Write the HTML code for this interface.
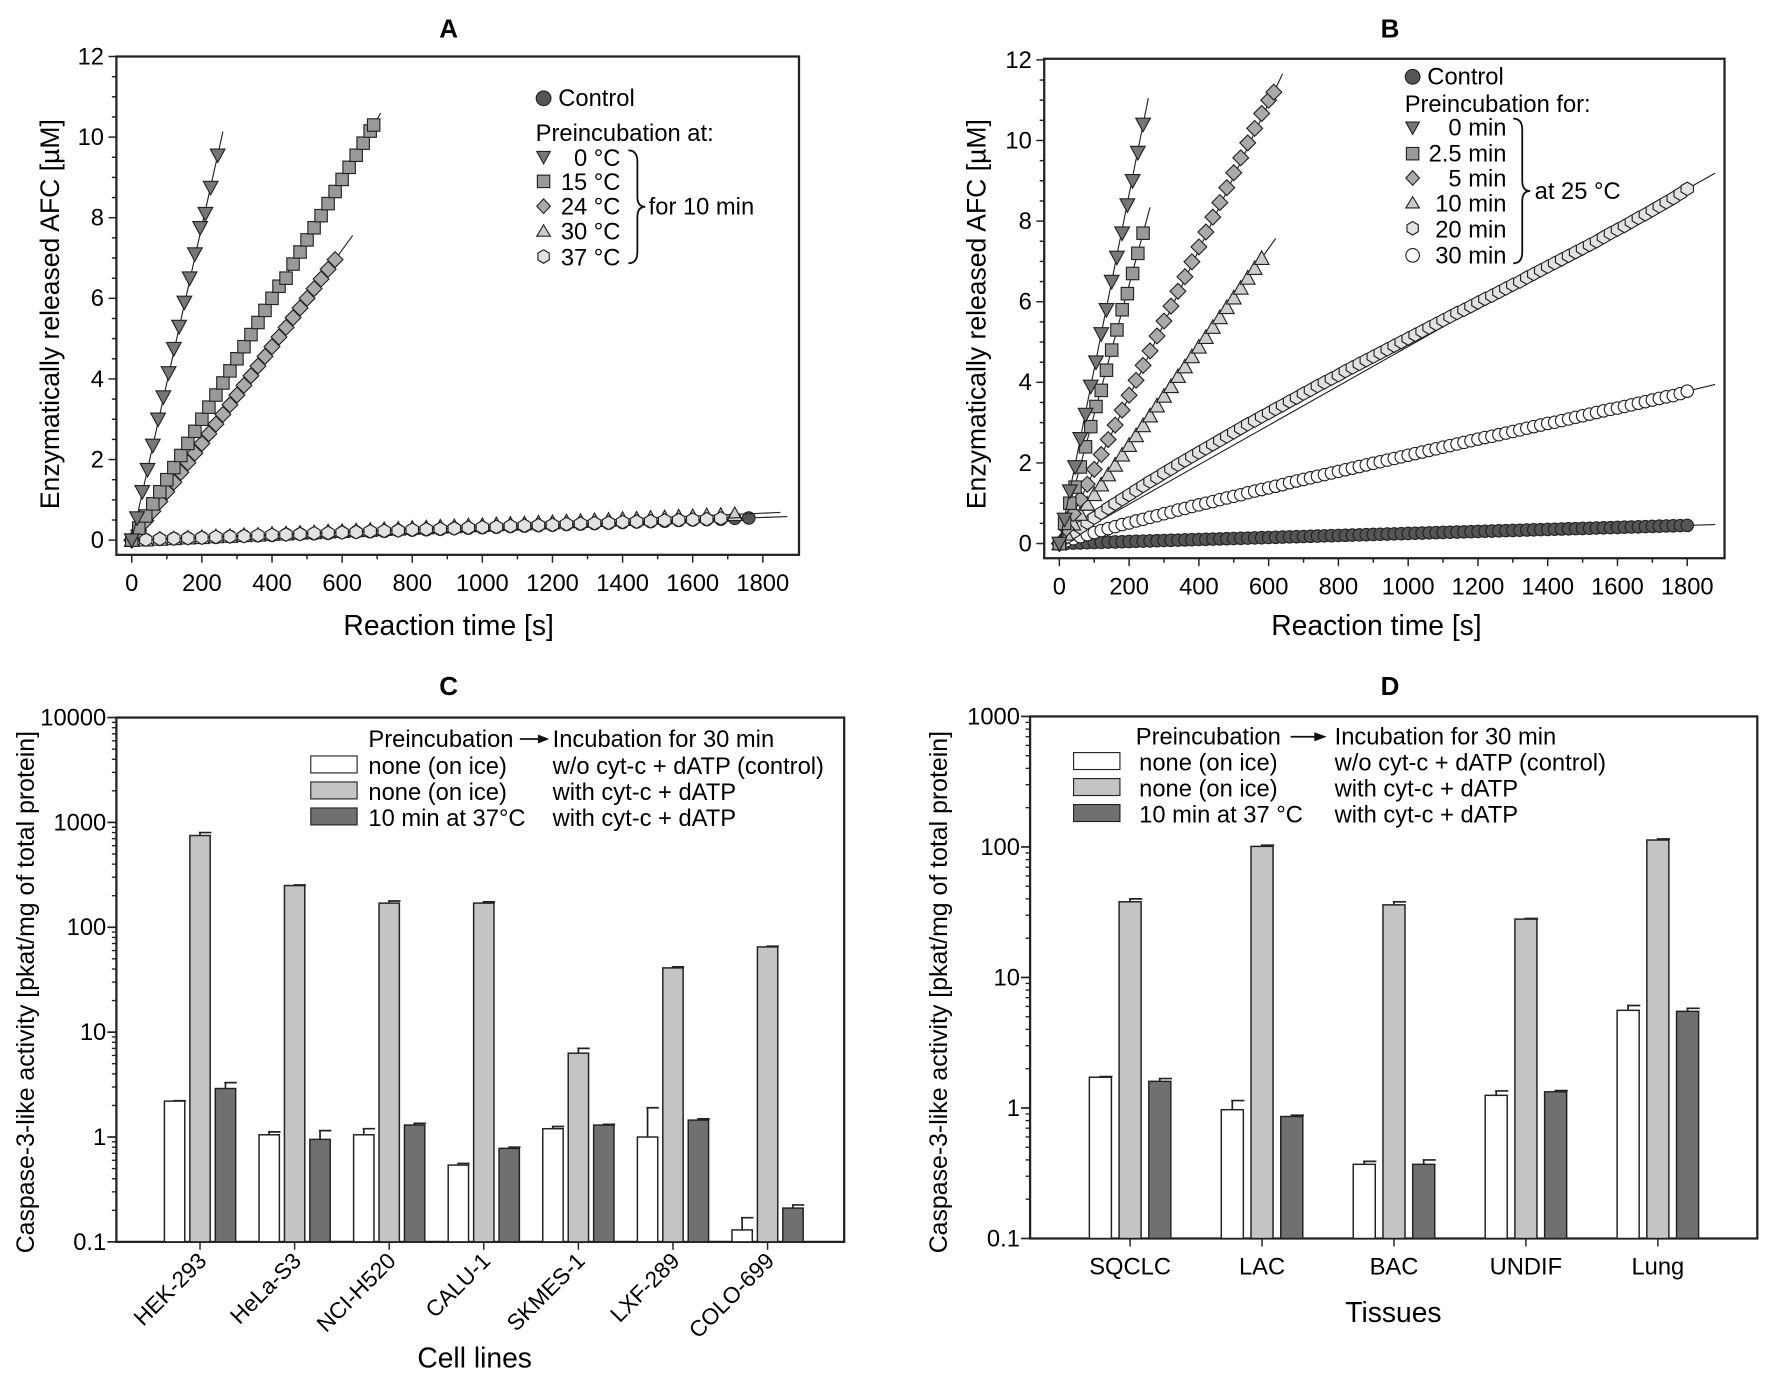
<!DOCTYPE html>
<html><head><meta charset="utf-8"><style>
html,body{margin:0;padding:0;background:#fff;}
svg{display:block;font-family:"Liberation Sans",Arial,sans-serif;}
</style></head><body>
<svg id="fig" width="1772" height="1382" viewBox="0 0 1568 1223" preserveAspectRatio="none">
<rect x="0" y="0" width="1568" height="1223" fill="#fff"/>
<!-- Titles -->
<text x="397" y="33" font-size="23" font-weight="bold" text-anchor="middle">A</text>
<text x="1230" y="33" font-size="23" font-weight="bold" text-anchor="middle">B</text>
<text x="397" y="615" font-size="23" font-weight="bold" text-anchor="middle">C</text>
<text x="1230" y="615" font-size="23" font-weight="bold" text-anchor="middle">D</text>
<!-- axis titles -->
<text x="397" y="562" font-size="25" text-anchor="middle">Reaction time [s]</text>
<text transform="translate(52,278) rotate(-90)" font-size="23.5" text-anchor="middle">Enzymatically released AFC [µM]</text>
<text x="1218" y="562" font-size="25" text-anchor="middle">Reaction time [s]</text>
<text transform="translate(872,278) rotate(-90)" font-size="23.5" text-anchor="middle">Enzymatically released AFC [µM]</text>
<text x="420" y="1210" font-size="25" text-anchor="middle">Cell lines</text>
<text transform="translate(30,878) rotate(-90)" font-size="22" text-anchor="middle">Caspase-3-like activity [pkat/mg of total protein]</text>
<text x="1233" y="1170" font-size="25" text-anchor="middle">Tissues</text>
<text transform="translate(838,878) rotate(-90)" font-size="22" text-anchor="middle">Caspase-3-like activity [pkat/mg of total protein]</text>

<!-- Legend A -->
<g font-size="21">
 <circle cx="481" cy="87" r="6.5" fill="#555" stroke="#222"/>
 <text x="494" y="94">Control</text>
 <text x="474" y="125">Preincubation at:</text>
 <polygon points="475,134 487,134 481,145" fill="#777" stroke="#222"/>
 <text x="549" y="147" text-anchor="end">0 °C</text>
 <rect x="475.5" y="155" width="11" height="11" fill="#999" stroke="#222"/>
 <text x="549" y="168" text-anchor="end">15 °C</text>
 <polygon points="481,176 487,182.5 481,189 475,182.5" fill="#aaa" stroke="#222"/>
 <text x="549" y="190" text-anchor="end">24 °C</text>
 <polygon points="475,209 487,209 481,199" fill="#ccc" stroke="#222"/>
 <text x="549" y="212" text-anchor="end">30 °C</text>
 <polygon points="481,221 486,224 486,230 481,233 476,230 476,224" fill="#e2e2e2" stroke="#222"/>
 <text x="549" y="235" text-anchor="end">37 °C</text>
 <path d="M556,133 Q564,133 564,143 L564,174 Q564,183 571,183 Q564,183 564,192 L564,223 Q564,233 556,233" fill="none" stroke="#111" stroke-width="1.6"/>
 <text x="574" y="190">for 10 min</text>
</g>
<!-- Legend B -->
<g font-size="21">
 <circle cx="1250" cy="68" r="6.5" fill="#555" stroke="#222"/>
 <text x="1263" y="75">Control</text>
 <text x="1243" y="99">Preincubation for:</text>
 <polygon points="1244,108 1256,108 1250,119" fill="#777" stroke="#222"/>
 <text x="1333" y="120" text-anchor="end">0 min</text>
 <rect x="1244.5" y="130.5" width="11" height="11" fill="#999" stroke="#222"/>
 <text x="1333" y="143" text-anchor="end">2.5 min</text>
 <polygon points="1250,151 1256,157.5 1250,164 1244,157.5" fill="#aaa" stroke="#222"/>
 <text x="1333" y="165" text-anchor="end">5 min</text>
 <polygon points="1244,184 1256,184 1250,174" fill="#ccc" stroke="#222"/>
 <text x="1333" y="187" text-anchor="end">10 min</text>
 <polygon points="1250,196 1255,199 1255,205 1250,208 1245,205 1245,199" fill="#e2e2e2" stroke="#222"/>
 <text x="1333" y="210" text-anchor="end">20 min</text>
 <circle cx="1250" cy="226" r="6" fill="#fff" stroke="#222"/>
 <text x="1333" y="233" text-anchor="end">30 min</text>
 <path d="M1339,105 Q1347,105 1347,115 L1347,160 Q1347,169 1354,169 Q1347,169 1347,178 L1347,223 Q1347,233 1339,233" fill="none" stroke="#111" stroke-width="1.6"/>
 <text x="1358" y="176">at 25 °C</text>
</g>
<!-- Legend C -->
<g font-size="21">
 <text x="326" y="661">Preincubation</text>
 <line x1="460" y1="654" x2="478" y2="654" stroke="#111" stroke-width="1.6"/>
 <polygon points="476,650 486,654 476,658" fill="#111"/>
 <text x="489" y="661">Incubation for 30 min</text>
 <rect x="275" y="669" width="41" height="15" fill="#fff" stroke="#222"/>
 <text x="326" y="685">none (on ice)</text>
 <text x="489" y="685">w/o cyt-c + dATP (control)</text>
 <rect x="275" y="692" width="41" height="15" fill="#c4c4c4" stroke="#222"/>
 <text x="326" y="708">none (on ice)</text>
 <text x="489" y="708">with cyt-c + dATP</text>
 <rect x="275" y="715" width="41" height="15" fill="#707070" stroke="#222"/>
 <text x="326" y="731">10 min at 37°C</text>
 <text x="489" y="731">with cyt-c + dATP</text>
</g>
<!-- Legend D -->
<g font-size="21">
 <text x="1005" y="659">Preincubation</text>
 <line x1="1142" y1="652" x2="1165" y2="652" stroke="#111" stroke-width="1.6"/>
 <polygon points="1163,648 1174,652 1163,656" fill="#111"/>
 <text x="1181" y="659">Incubation for 30 min</text>
 <rect x="950" y="666" width="41" height="15" fill="#fff" stroke="#222"/>
 <text x="1008" y="682">none (on ice)</text>
 <text x="1181" y="682">w/o cyt-c + dATP (control)</text>
 <rect x="950" y="689" width="41" height="15" fill="#c4c4c4" stroke="#222"/>
 <text x="1008" y="705">none (on ice)</text>
 <text x="1181" y="705">with cyt-c + dATP</text>
 <rect x="950" y="712" width="41" height="15" fill="#707070" stroke="#222"/>
 <text x="1008" y="728">10 min at 37 °C</text>
 <text x="1181" y="728">with cyt-c + dATP</text>
</g>
</svg>
<script>
// ---------- Panel A data ----------
var aT0 = [0,15,30,45,60,75,90,105,120,135,150,165,180,195,210,225,245];
var aV0 = [0,0.55,1.2,1.75,2.35,3.0,3.55,4.15,4.75,5.3,5.9,6.5,7.1,7.75,8.1,8.75,9.55];
var aT15 = [0,20,40,60,80,100,120,140,160,180,200,220,240,260,280,300,320,340,360,380,400,420,440,460,480,500,520,540,560,580,600,620,640,660,680,690];
var aV15 = [0,0.3,0.6,0.9,1.2,1.5,1.8,2.1,2.4,2.7,3.0,3.3,3.6,3.9,4.2,4.5,4.8,5.1,5.4,5.7,6.0,6.3,6.5,6.85,7.15,7.45,7.75,8.05,8.35,8.65,8.95,9.25,9.55,9.85,10.15,10.3];
var aT24 = [0,20,40,60,80,100,120,140,160,180,200,220,240,260,280,300,320,340,360,380,400,420,440,460,480,500,520,540,560,580];
var aV24 = [0,0.24,0.48,0.72,0.96,1.2,1.44,1.68,1.92,2.16,2.4,2.64,2.88,3.12,3.36,3.6,3.84,4.08,4.32,4.56,4.8,5.04,5.28,5.52,5.76,6.0,6.24,6.48,6.72,6.96];
var aVctl = [0,.01,.02,.04,.05,.06,.07,.09,.10,.11,.12,.14,.15,.16,.17,.19,.20,.21,.22,.24,.25,.26,.27,.29,.30,.31,.32,.34,.35,.36,.37,.39,.40,.41,.42,.44,.45,.46,.47,.49,.50,.51,.52,.54,.55];
var aV30 = [0,.01,.03,.04,.06,.07,.09,.10,.12,.13,.15,.16,.18,.19,.21,.22,.24,.25,.27,.28,.30,.31,.33,.34,.36,.37,.39,.40,.41,.43,.44,.46,.47,.49,.50,.52,.53,.55,.56,.58,.59,.61,.62,.64];
var aV37 = [0,.01,.03,.04,.05,.06,.08,.09,.10,.12,.13,.14,.15,.17,.18,.19,.20,.22,.23,.24,.26,.27,.28,.29,.31,.32,.33,.35,.36,.37,.38,.40,.41,.42,.43,.45,.46,.47,.49,.50,.51,.52,.54];
var lowStep = 40;
var bStep = 20;
// ---------- Panel B data ----------
var bT0 = [0,15,30,45,60,75,90,105,120,135,150,165,180,195,210,225,240];
var bV0 = [0,.6,1.3,1.9,2.6,3.2,3.9,4.5,5.2,5.8,6.5,7.1,7.7,8.4,9.0,9.7,10.4];
var bT25 = [0,15,30,45,60,75,90,105,120,135,150,165,180,195,210,225,240];
var bV25 = [0,.5,1.0,1.4,1.9,2.4,2.9,3.4,3.8,4.3,4.8,5.3,5.8,6.2,6.7,7.2,7.7];
var bT5 = [0,20,40,60,80,100,120,140,160,180,200,220,240,260,280,300,320,340,360,380,400,420,440,460,480,500,520,540,560,580,600,615];
var bV5 = [0,.37,.74,1.1,1.47,1.84,2.21,2.58,2.94,3.31,3.68,4.05,4.42,4.78,5.15,5.52,5.89,6.26,6.62,6.99,7.36,7.73,8.1,8.46,8.83,9.2,9.57,9.94,10.3,10.67,11.0,11.2];
var bT10 = [0,20,40,60,80,100,120,140,160,180,200,220,240,260,280,300,320,340,360,380,400,420,440,460,480,500,520,540,560,580];
var bV10 = [0,.24,.49,.73,.98,1.22,1.46,1.71,1.95,2.2,2.44,2.68,2.93,3.17,3.42,3.66,3.9,4.15,4.39,4.64,4.88,5.12,5.37,5.61,5.86,6.1,6.34,6.59,6.83,7.08];
var bV20 = [0,.15,.28,.40,.52,.64,.76,.88,.99,1.10,1.21,1.32,1.43,1.54,1.64,1.75,1.85,1.96,2.06,2.16,2.26,2.36,2.46,2.56,2.66,2.76,2.86,2.96,3.05,3.15,3.24,3.34,3.43,3.53,3.62,3.72,3.81,3.91,4.0,4.09,4.18,4.28,4.37,4.46,4.55,4.64,4.73,4.82,4.91,5.0,5.09,5.18,5.27,5.36,5.45,5.54,5.63,5.72,5.80,5.89,5.98,6.07,6.15,6.24,6.33,6.42,6.50,6.60,6.69,6.78,6.87,6.96,7.05,7.14,7.23,7.32,7.41,7.50,7.60,7.70,7.79,7.88,7.98,8.08,8.17,8.27,8.37,8.47,8.57,8.68,8.8];
var bV30 = [0,.07,.12,.17,.22,.27,.32,.37,.42,.47,.51,.56,.60,.65,.69,.74,.78,.83,.87,.92,.96,1.00,1.04,1.09,1.13,1.17,1.21,1.26,1.30,1.34,1.38,1.42,1.46,1.51,1.55,1.59,1.63,1.67,1.71,1.75,1.79,1.83,1.87,1.91,1.95,1.99,2.03,2.07,2.11,2.15,2.19,2.23,2.27,2.31,2.35,2.39,2.43,2.47,2.51,2.55,2.59,2.63,2.66,2.70,2.74,2.78,2.82,2.86,2.90,2.94,2.98,3.01,3.05,3.09,3.13,3.17,3.21,3.25,3.29,3.33,3.36,3.40,3.44,3.48,3.52,3.56,3.60,3.64,3.67,3.72,3.78];
var bVctl = [0,.005,.01,.015,.02,.025,.03,.035,.04,.045,.05,.055,.06,.065,.07,.075,.08,.085,.09,.095,.10,.105,.11,.115,.12,.125,.13,.135,.14,.145,.15,.155,.16,.165,.17,.175,.18,.185,.19,.195,.20,.205,.21,.215,.22,.225,.23,.235,.24,.245,.25,.255,.26,.265,.27,.275,.28,.285,.29,.295,.30,.305,.31,.315,.32,.325,.33,.335,.34,.345,.35,.355,.36,.365,.37,.375,.38,.385,.39,.395,.40,.405,.41,.415,.42,.425,.43,.435,.44,.445,.45];
var xTicks = [0,200,400,600,800,1000,1200,1400,1600,1800];
var yTicksLin = [0,2,4,6,8,10,12];
// ---------- Panel C data ----------
var cCats = ["HEK-293","HeLa-S3","NCI-H520","CALU-1","SKMES-1","LXF-289","COLO-699"];
var cCtl = [2.2,1.05,1.05,0.54,1.2,1.0,0.13];
var cCtlErr = [0.02,0.07,0.15,0.02,0.06,0.9,0.04];
var cIce = [750,250,170,170,6.3,41,65];
var cIceErr = [50,3,8,5,0.7,1,1];
var cHot = [2.9,0.95,1.3,0.78,1.3,1.45,0.21];
var cHotErr = [0.4,0.2,0.05,0.02,0.02,0.04,0.015];
var cYTicks = [0.1,1,10,100,1000,10000];
var cYLabels = ["0.1","1","10","100","1000","10000"];
// ---------- Panel D data ----------
var dCats = ["SQCLC","LAC","BAC","UNDIF","Lung"];
var dCtl = [1.72,0.97,0.37,1.25,5.6];
var dCtlErr = [0.02,0.17,0.02,0.1,0.5];
var dIce = [38,101,36,28,113];
var dIceErr = [2,2,2,0.3,2];
var dHot = [1.6,0.86,0.37,1.33,5.5];
var dHotErr = [0.08,0.02,0.03,0.03,0.3];
var dYTicks = [0.1,1,10,100,1000];
var dYLabels = ["0.1","1","10","100","1000"];

var NS = "http://www.w3.org/2000/svg";
var svg = document.getElementById('fig');
function mk(tag, parent){ var e = document.createElementNS(NS, tag); parent.appendChild(e); return e; }
function grp(name){ var g = mk('g', svg);
  
  
  return g; }

function marker(g, type, cx, cy, fill){
  var s = 5.5, e;
  if (type === 'circle'){ e = mk('circle', g); e.setAttribute('cx', cx); e.setAttribute('cy', cy); e.setAttribute('r', s); }
  else if (type === 'square'){ e = mk('rect', g); e.setAttribute('x', cx - s); e.setAttribute('y', cy - s); e.setAttribute('width', 2*s); e.setAttribute('height', 2*s); }
  else {
    var p;
    if (type === 'tridown') p = [[cx-s-1,cy-s],[cx+s+1,cy-s],[cx,cy+s+1]];
    else if (type === 'triup') p = [[cx-s-1,cy+s],[cx+s+1,cy+s],[cx,cy-s-1]];
    else if (type === 'diamond') p = [[cx,cy-s-1.5],[cx+s+1.5,cy],[cx,cy+s+1.5],[cx-s-1.5,cy]];
    else p = [[cx,cy-s-0.5],[cx+s,cy-s/2],[cx+s,cy+s/2],[cx,cy+s+0.5],[cx-s,cy+s/2],[cx-s,cy-s/2]];
    e = mk('polygon', g); e.setAttribute('points', p.map(function(q){return q.join(',');}).join(' '));
  }
  e.setAttribute('fill', fill); e.setAttribute('stroke', '#222'); e.setAttribute('stroke-width', '1');
  
  
}

function linPanel(cfg){
  var fx = function(t){ return cfg.x0 + t * (cfg.x1800 - cfg.x0) / 1800; };
  var fy = function(v){ return cfg.y0 - v * (cfg.y0 - cfg.y12) / 12; };
  var ax = grp(cfg.id + '-axes');
  var fr = mk('rect', ax);
  fr.setAttribute('x', cfg.L); fr.setAttribute('y', cfg.T); fr.setAttribute('width', cfg.R - cfg.L); fr.setAttribute('height', cfg.B - cfg.T);
  fr.setAttribute('fill', 'none'); fr.setAttribute('stroke', '#222'); fr.setAttribute('stroke-width', '2');
  
  
  for (var t = 0; t <= 1800; t += 100){
    var tk = mk('line', ax); var major = (t % 200 === 0);
    tk.setAttribute('x1', fx(t)); tk.setAttribute('x2', fx(t)); tk.setAttribute('y1', cfg.B); tk.setAttribute('y2', cfg.B + (major ? 7 : 4));
    tk.setAttribute('stroke', '#222'); tk.setAttribute('stroke-width', '1.3');
    
    
  }
  xTicks.forEach(function(t){
    var tx = mk('text', ax); tx.setAttribute('x', fx(t)); tx.setAttribute('y', cfg.B + 32);
    tx.setAttribute('font-size', '21'); tx.setAttribute('text-anchor', 'middle'); tx.textContent = String(t);
    
    
  });
  for (var v = 0; v <= 12.001; v += 0.5){
    var ty = mk('line', ax); var mj = (Math.abs(v % 2) < 0.01);
    ty.setAttribute('x1', cfg.L); ty.setAttribute('x2', cfg.L - (mj ? 7 : 4)); ty.setAttribute('y1', fy(v)); ty.setAttribute('y2', fy(v));
    ty.setAttribute('stroke', '#222'); ty.setAttribute('stroke-width', '1.3');
    
    
  }
  yTicksLin.forEach(function(v){
    var tx = mk('text', ax); tx.setAttribute('x', cfg.L - 11); tx.setAttribute('y', fy(v) + 7);
    tx.setAttribute('font-size', '21'); tx.setAttribute('text-anchor', 'end'); tx.textContent = String(v);
    
    
  });
  cfg.series.forEach(function(s){
    var g = grp(cfg.id + '-series-' + s.name);
    var n = s.v.length, tl = s.t[n-1], vl = s.v[n-1];
    var tend = Math.min(tl + s.ext, 1880);
    var ln = mk('line', g);
    ln.setAttribute('x1', fx(0)); ln.setAttribute('y1', fy(0)); ln.setAttribute('x2', fx(tend)); ln.setAttribute('y2', fy(vl * tend / tl));
    ln.setAttribute('stroke', '#222'); ln.setAttribute('stroke-width', '1');
    
    
    for (var i = 0; i < n; i++) marker(g, s.type, fx(s.t[i]), fy(s.v[i]), s.fill);
  });
}
function steps(n, st){ var a = []; for (var i = 0; i < n; i++) a.push(i * st); return a; }

linPanel({id:'a', L:103, R:707, T:50, B:491, x0:116.6, x1800:675, y0:478, y12:50, series:[
  {name:'control', t:steps(aVctl.length, lowStep), v:aVctl, type:'circle', fill:'#555', ext:110},
  {name:'30c', t:steps(aV30.length, lowStep), v:aV30, type:'triup', fill:'#ccc', ext:130},
  {name:'37c', t:steps(aV37.length, lowStep), v:aV37, type:'hex', fill:'#e2e2e2', ext:60},
  {name:'24c', t:aT24, v:aV24, type:'diamond', fill:'#aaa', ext:50},
  {name:'15c', t:aT15, v:aV15, type:'square', fill:'#999', ext:20},
  {name:'0c', t:aT0, v:aV0, type:'tridown', fill:'#777', ext:15}
]});
linPanel({id:'b', L:924, R:1526, T:52, B:494, x0:937.4, x1800:1493, y0:481, y12:53, series:[
  {name:'control', t:steps(bVctl.length, bStep), v:bVctl, type:'circle', fill:'#555', ext:80},
  {name:'30min', t:steps(bV30.length, bStep), v:bV30, type:'circle', fill:'#fff', ext:80},
  {name:'20min', t:steps(bV20.length, bStep), v:bV20, type:'hex', fill:'#e2e2e2', ext:80},
  {name:'10min', t:bT10, v:bV10, type:'triup', fill:'#ccc', ext:40},
  {name:'5min', t:bT5, v:bV5, type:'diamond', fill:'#aaa', ext:25},
  {name:'2.5min', t:bT25, v:bV25, type:'square', fill:'#999', ext:20},
  {name:'0min', t:bT0, v:bV0, type:'tridown', fill:'#777', ext:15}
]});

function barPanel(cfg){
  var dec = (cfg.B - cfg.T) / cfg.decades;
  var fy = function(v){ return cfg.B - (Math.log10(v) + 1) * dec; };
  var ax = grp(cfg.id + '-axes');
  var fr = mk('rect', ax);
  fr.setAttribute('x', cfg.L); fr.setAttribute('y', cfg.T); fr.setAttribute('width', cfg.R - cfg.L); fr.setAttribute('height', cfg.B - cfg.T);
  fr.setAttribute('fill', 'none'); fr.setAttribute('stroke', '#222'); fr.setAttribute('stroke-width', '2');
  
  
  for (var d = 0; d < cfg.decades; d++){
    for (var m = 2; m <= 9; m++){
      var mt = mk('line', ax); var yy = fy(m * Math.pow(10, d - 1));
      mt.setAttribute('x1', cfg.L); mt.setAttribute('x2', cfg.L - 4); mt.setAttribute('y1', yy); mt.setAttribute('y2', yy);
      mt.setAttribute('stroke', '#222'); mt.setAttribute('stroke-width', '1.2');
      
      
    }
  }
  cfg.ticks.forEach(function(v, i){
    var tk = mk('line', ax);
    tk.setAttribute('x1', cfg.L); tk.setAttribute('x2', cfg.L - 8); tk.setAttribute('y1', fy(v)); tk.setAttribute('y2', fy(v));
    tk.setAttribute('stroke', '#222'); tk.setAttribute('stroke-width', '1.5');
    
    
    var tx = mk('text', ax); tx.setAttribute('x', cfg.L - 9); tx.setAttribute('y', fy(v) + 7);
    tx.setAttribute('font-size', '21'); tx.setAttribute('text-anchor', 'end'); tx.textContent = cfg.labels[i];
    
    
  });
  var fills = ['#ffffff', '#c4c4c4', '#707070'];
  var names = ['control', 'ice', 'hot'];
  cfg.cats.forEach(function(c, i){
    var cx = cfg.x0 + i * cfg.step;
    var tk = mk('line', ax);
    tk.setAttribute('x1', cx); tk.setAttribute('x2', cx); tk.setAttribute('y1', cfg.B); tk.setAttribute('y2', cfg.B + 7);
    tk.setAttribute('stroke', '#222'); tk.setAttribute('stroke-width', '1.3');
    
    
    var tx = mk('text', ax);
    if (cfg.rotate){ tx.setAttribute('font-size', '20'); tx.setAttribute('text-anchor', 'end'); tx.setAttribute('transform', 'translate(' + (cx + 7) + ',' + (cfg.B + 18) + ') rotate(-45)'); }
    else { tx.setAttribute('font-size', '21'); tx.setAttribute('text-anchor', 'middle'); tx.setAttribute('x', cx); tx.setAttribute('y', cfg.B + 32); }
    tx.textContent = c;
    
    
    var g = grp(cfg.id + '-group-' + c);
    [cfg.s0, cfg.s1, cfg.s2].forEach(function(arr, k){
      var v = arr[i], e = cfg.e[k][i];
      var bx = cx + (k - 1) * cfg.off - cfg.w / 2;
      var eb = mk('path', g);
      eb.setAttribute('d', 'M' + (cx + (k-1)*cfg.off) + ',' + fy(v) + 'V' + fy(v + e) + 'M' + (cx + (k-1)*cfg.off - 1) + ',' + fy(v + e) + 'H' + (bx + cfg.w + 1));
      eb.setAttribute('stroke', '#222'); eb.setAttribute('stroke-width', '1.5'); eb.setAttribute('fill', 'none');
      
      
      var r = mk('rect', g);
      r.setAttribute('x', bx); r.setAttribute('y', fy(v)); r.setAttribute('width', cfg.w); r.setAttribute('height', cfg.B - fy(v));
      r.setAttribute('fill', fills[k]); r.setAttribute('stroke', '#222'); r.setAttribute('stroke-width', '1.3');
      
      
    });
  });
}
barPanel({id:'c', L:103, R:747, T:635, B:1099, decades:5, ticks:cYTicks, labels:cYLabels, cats:cCats,
  x0:177, step:83.7, off:22.5, w:18, rotate:true, s0:cCtl, s1:cIce, s2:cHot, e:[cCtlErr, cIceErr, cHotErr]});
barPanel({id:'d', L:911.5, R:1555, T:634, B:1096, decades:4, ticks:dYTicks, labels:dYLabels, cats:dCats,
  x0:1000, step:116.75, off:26.3, w:19.5, rotate:false, s0:dCtl, s1:dIce, s2:dHot, e:[dCtlErr, dIceErr, dHotErr]});
</script>
</body></html>
